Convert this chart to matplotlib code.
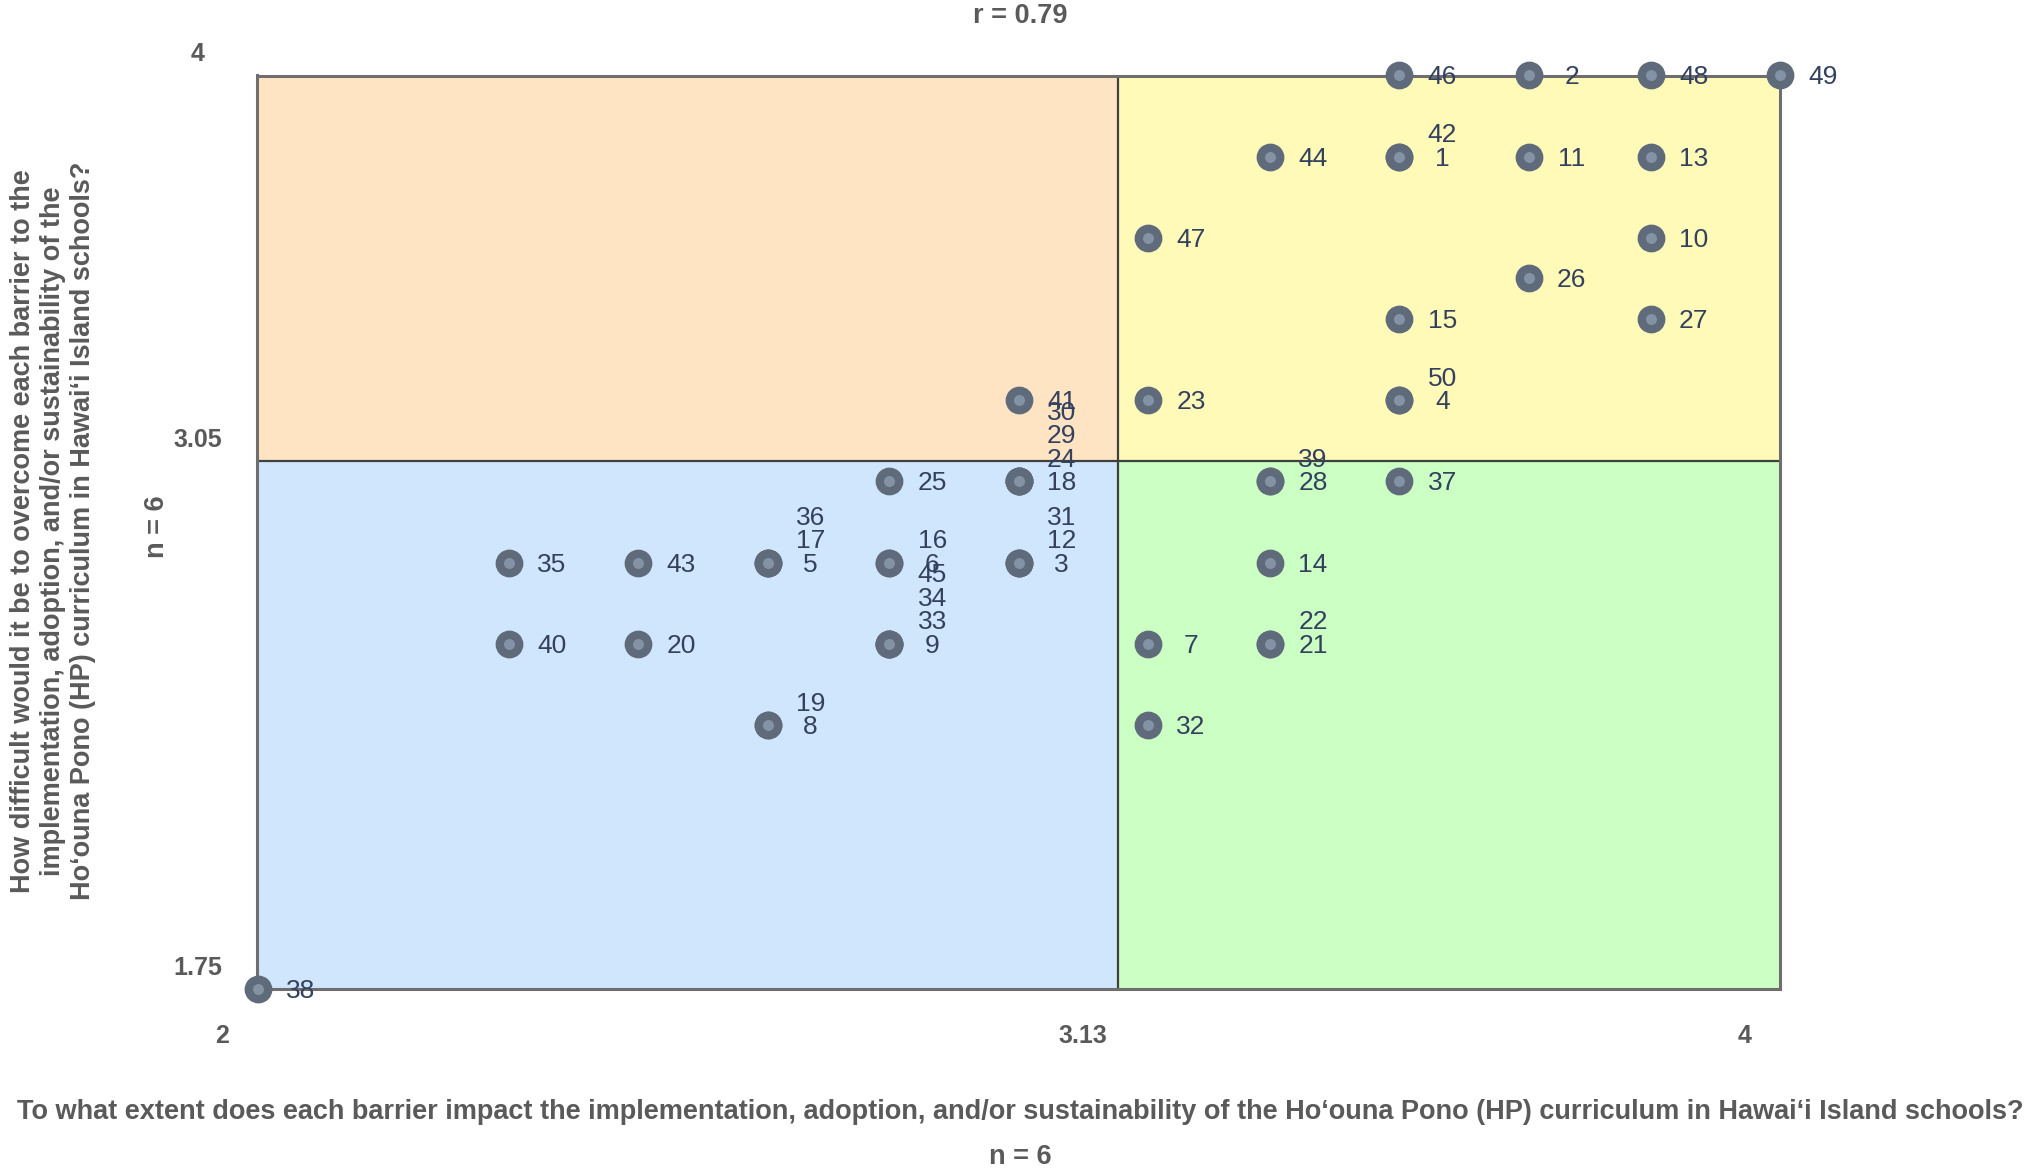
import matplotlib
matplotlib.use("Agg")
import matplotlib.pyplot as plt
from matplotlib.patches import Rectangle
from collections import defaultdict

# ---------------- data ----------------
barrier_ids = list(range(1, 51))
impact = [3.5, 3.67, 3.0, 3.5, 2.67, 2.83, 3.17, 2.67, 2.83, 3.83,
          3.67, 3.0, 3.83, 3.33, 3.5, 2.83, 2.67, 3.0, 2.67, 2.5,
          3.33, 3.33, 3.17, 3.0, 2.83, 3.67, 3.83, 3.33, 3.0, 3.0,
          3.0, 3.17, 2.83, 2.83, 2.33, 2.67, 3.5, 2.0, 3.33, 2.33,
          3.0, 3.5, 2.5, 3.33, 2.83, 3.5, 3.17, 3.83, 4.0, 3.5]
difficulty = [3.8, 4.0, 2.8, 3.2, 2.8, 2.8, 2.6, 2.4, 2.6, 3.6,
              3.8, 2.8, 3.8, 2.8, 3.4, 2.8, 2.8, 3.0, 2.4, 2.6,
              2.6, 2.6, 3.2, 3.0, 3.0, 3.5, 3.4, 3.0, 3.0, 3.0,
              2.8, 2.4, 2.6, 2.6, 2.8, 2.8, 3.0, 1.75, 3.0, 2.6,
              3.2, 3.8, 2.8, 3.8, 2.6, 4.0, 3.6, 4.0, 4.0, 3.2]

x_range = [2, 4]
y_range = [1.75, 4]
x_cut = 3.13
y_cut = 3.05
x_tick_values = [2, 3.13, 4]
x_tick_labels = ["2", "3.13", "4"]
y_tick_values = [1.75, 3.05, 4]
y_tick_labels = ["1.75", "3.05", "4"]
title_text = "r = 0.79"
n_text = "n = 6"
x_label = ("To what extent does each barrier impact the implementation, adoption, and/or "
           "sustainability of the Ho\u2018ouna Pono (HP) curriculum in Hawai\u2018i Island schools?")
y_label = ("How difficult would it be to overcome each barrier to the\n"
           "implementation, adoption, and/or sustainability of the\n"
           "Ho\u2018ouna Pono (HP) curriculum in Hawai\u2018i Island schools?")

# ---------------- figure ----------------
plt.rcParams["font.family"] = ["Liberation Sans", "DejaVu Sans"]
W, H = 2040, 1172
fig = plt.figure(figsize=(W / 100, H / 100), dpi=100)
L, R, T, B = 257.5, 1780, 75.5, 989
ax = fig.add_axes([L / W, 1 - B / H, (R - L) / W, (B - T) / H])
ax.set_xlim(*x_range)
ax.set_ylim(*y_range)

x0, x1 = x_range
y0, y1 = y_range
ax.add_patch(Rectangle((x0, y_cut), x_cut - x0, y1 - y_cut, fc="#ffe4c4", ec="none", zorder=0))
ax.add_patch(Rectangle((x_cut, y_cut), x1 - x_cut, y1 - y_cut, fc="#fffab8", ec="none", zorder=0))
ax.add_patch(Rectangle((x0, y0), x_cut - x0, y_cut - y0, fc="#d0e6fc", ec="none", zorder=0))
ax.add_patch(Rectangle((x_cut, y0), x1 - x_cut, y_cut - y0, fc="#ccffc4", ec="none", zorder=0))
ax.axvline(x_cut, color="#404040", lw=1.6, zorder=1)
ax.axhline(y_cut, color="#404040", lw=1.6, zorder=1)
for sp in ax.spines.values():
    sp.set_color("#6e6e6e")
    sp.set_linewidth(2.2)
ax.set_xticks([])
ax.set_yticks([])

ax.plot(impact, difficulty, "o", ms=14, mfc="#8393a5", mec="#5f6b7b", mew=6,
        clip_on=False, zorder=5, ls="none")

groups = defaultdict(list)
for bid, xv, yv in zip(barrier_ids, impact, difficulty):
    groups[(xv, yv)].append(bid)
for (xv, yv), lst in groups.items():
    for k, bid in enumerate(sorted(lst)):
        ax.annotate(str(bid), (xv, yv), xytext=(43, -2 + 23.5 * k), textcoords="offset pixels",
                    ha="center", va="center", fontsize=19, color="#34415e",
                    annotation_clip=False, zorder=6)

tick_style = dict(ha="center", va="center", fontsize=18, fontweight="bold", color="#5a5a5a",
                  annotation_clip=False)
for v, t in zip(x_tick_values, x_tick_labels):
    ax.annotate(t, (v, 0), xycoords=("data", "axes fraction"), xytext=(-35, -47),
                textcoords="offset pixels", **tick_style)
for v, t in zip(y_tick_values, y_tick_labels):
    ax.annotate(t, (0, v), xycoords=("axes fraction", "data"), xytext=(-60, 21),
                textcoords="offset pixels", **tick_style)

txt = dict(fontsize=19.5, fontweight="bold", color="#5a5a5a")
fig.text(1020 / W, 1 - 16 / H, title_text, ha="center", va="center", **txt)
fig.text(1020 / W, 1 - 1112 / H, x_label, ha="center", va="center", **txt)
fig.text(1020 / W, 1 - 1157 / H, n_text, ha="center", va="center", **txt)
fig.text(53 / W, 1 - 531 / H, y_label, ha="center", va="center", rotation=90,
         multialignment="center", linespacing=1.22, **txt)
fig.text(157 / W, 1 - 527 / H, n_text, ha="center", va="center", rotation=90, **txt)

fig.savefig("out.png", dpi=100, facecolor="white")
